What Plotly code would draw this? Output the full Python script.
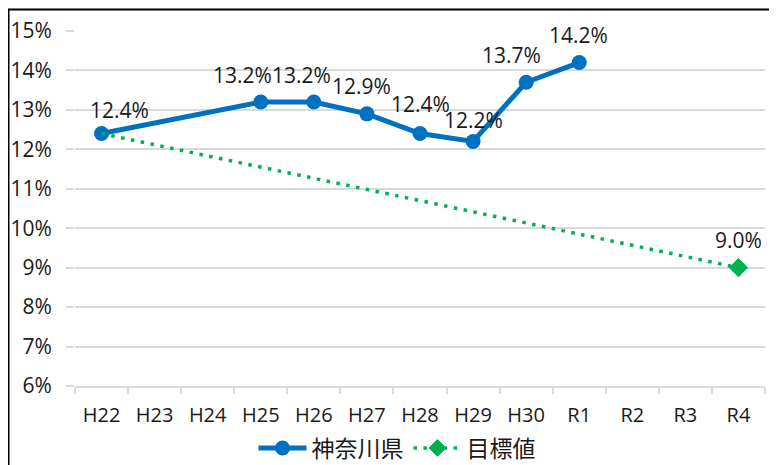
import plotly.graph_objects as go

categories = ["H22", "H23", "H24", "H25", "H26", "H27", "H28", "H29", "H30", "R1", "R2", "R3", "R4"]
kanagawa = [12.4, None, None, 13.2, 13.2, 12.9, 12.4, 12.2, 13.7, 14.2, None, None, None]
target = [12.4, None, None, None, None, None, None, None, None, None, None, None, 9.0]
y_ticks = [6, 7, 8, 9, 10, 11, 12, 13, 14, 15]

# label offsets (pixels) for data labels
k_label_dx = [18, 0, 0, -18, -12, -5, 0, 0, -15, -1, 0, 0, 0]
k_label_dy = [24, 0, 0, 27, 27, 28, 30, 21, 27, 28, 0, 0, 0]

BLUE = "#0070C0"
GREEN = "#00B050"
TXT = "#1a1a1a"
FONT = "Open Sans, Noto Sans CJK JP, sans-serif"

fig = go.Figure()
fig.add_trace(go.Scatter(
    x=categories, y=kanagawa, name="神奈川県", mode="lines+markers",
    line=dict(color=BLUE, width=5), marker=dict(color=BLUE, size=15, symbol="circle"),
    connectgaps=True, hoverinfo="skip"))
fig.add_trace(go.Scatter(
    x=categories, y=target, name="目標値", mode="lines+markers",
    line=dict(color=GREEN, width=3.5, dash="3.5px,6.5px"),
    marker=dict(color=GREEN, size=[0 if i == 0 else 14 for i in range(len(categories))], symbol="diamond",
                opacity=1, line=dict(width=1, color=GREEN)),
    connectgaps=True, hoverinfo="skip"))

annotations = []
for i, v in enumerate(kanagawa):
    if v is None:
        continue
    annotations.append(dict(x=categories[i], y=v, text=f"{v:.1f}%", showarrow=False,
                            xshift=k_label_dx[i], yshift=k_label_dy[i],
                            font=dict(size=21, color=TXT, family=FONT)))
annotations.append(dict(x=categories[-1], y=target[-1], text=f"{target[-1]:.1f}%", showarrow=False,
                        xshift=0, yshift=28, font=dict(size=21, color=TXT, family=FONT)))

# page offset of 8px (body margin) compensated in these figure-space numbers
L, R, T, B = 67, 20, 23, 87
W, H = 777, 465
pw, ph = W - L - R, H - T - B

fig.update_layout(
    width=W, height=H,
    margin=dict(l=L, r=R, t=T, b=B, autoexpand=False),
    paper_bgcolor="white", plot_bgcolor="white",
    font=dict(family=FONT, size=20, color=TXT),
    showlegend=True,
    legend=dict(orientation="h", xref="paper", yref="paper",
                x=(389 - L) / pw, y=-(440 - (H - B)) / ph,
                xanchor="center", yanchor="middle", font=dict(size=23, color=TXT),
                bgcolor="rgba(0,0,0,0)", itemwidth=48, tracegroupgap=0),
    annotations=annotations,
    shapes=[dict(type="rect", xref="paper", yref="paper",
                 x0=(0.5 - L) / pw, x1=(790 - L) / pw,
                 y0=(H - B - 480) / ph, y1=(H - B - 1.5) / ph,
                 line=dict(color="black", width=2), fillcolor="rgba(0,0,0,0)", layer="above")],
)
fig.update_xaxes(type="category", categoryorder="array", categoryarray=categories,
                 range=[-0.5, len(categories) - 0.5], automargin=False,
                 showgrid=False, showline=True, linecolor="#d9d9d9", linewidth=1.5,
                 ticks="outside", tickson="boundaries", ticklen=6, tickcolor="#d9d9d9", tickwidth=1.5,
                 ticklabelstandoff=10, tickfont=dict(size=20))
fig.update_yaxes(range=[6, 15], tickvals=y_ticks, ticktext=[f"{t}%" for t in y_ticks], automargin=False,
                 showgrid=True, gridcolor="#d9d9d9", gridwidth=1.5, zeroline=False,
                 showline=False, ticks="outside", ticklen=8, tickcolor="#d9d9d9", tickwidth=1.5,
                 ticklabelstandoff=10, tickfont=dict(size=21))

fig.write_html("out.html")
